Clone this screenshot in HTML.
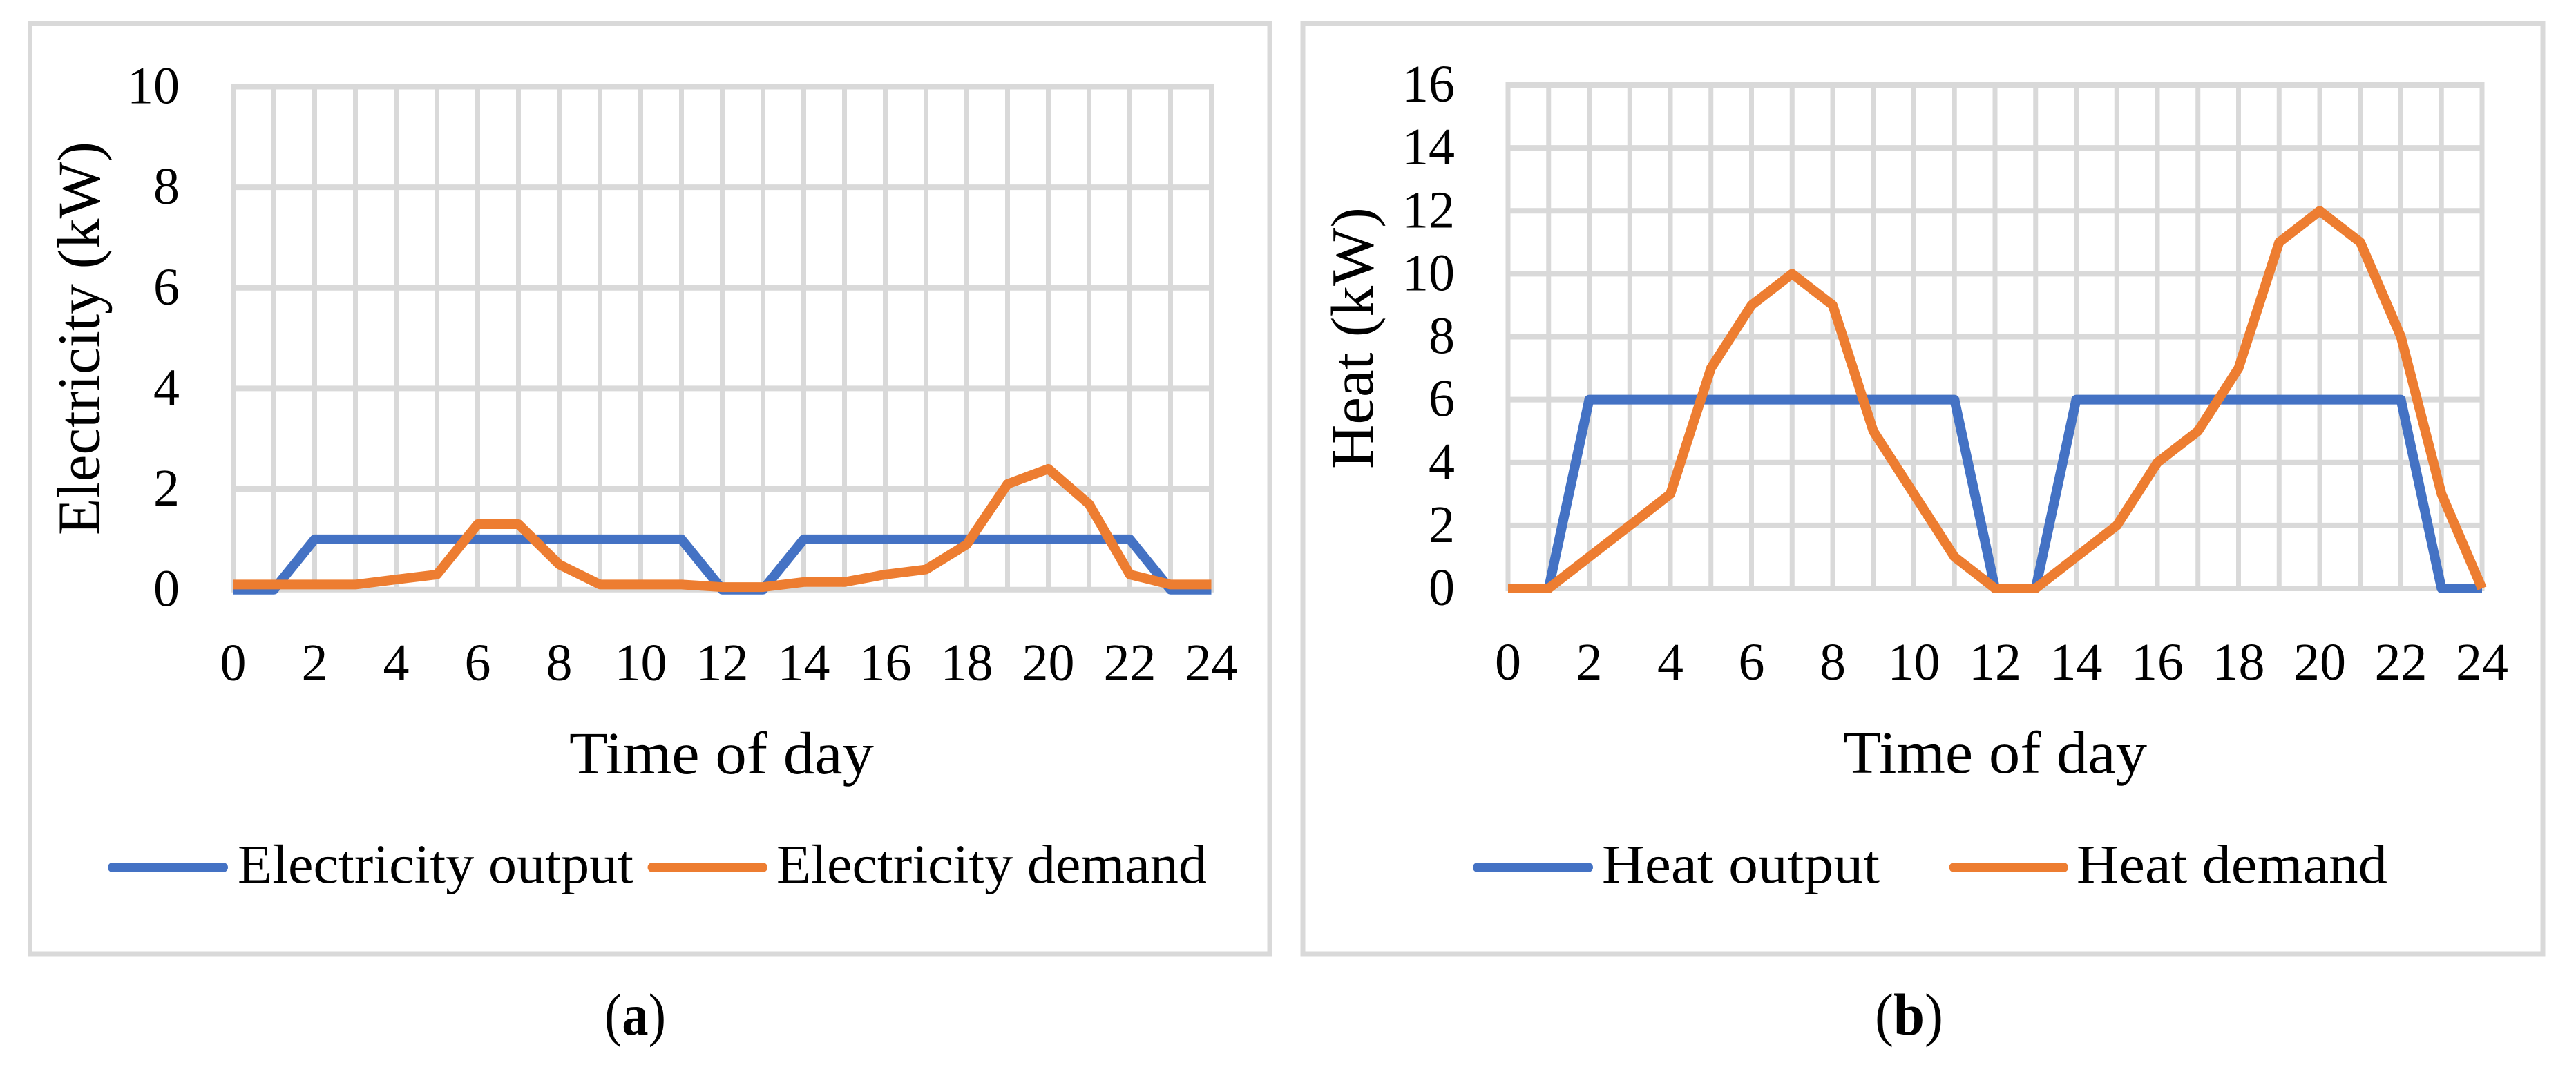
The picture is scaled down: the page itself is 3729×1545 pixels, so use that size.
<!DOCTYPE html>
<html lang="en">
<head>
<meta charset="utf-8">
<title>Electricity and heat output versus demand</title>
<style>
html,body{margin:0;padding:0;background:#fff;width:3729px;height:1545px;overflow:hidden}
svg{display:block}
text{font-family:"Liberation Serif",serif;fill:#000}
.tick{font-size:76px}
.title{font-size:87px}
.legend{font-size:79px}
.caption{font-size:86px}
</style>
</head>
<body>
<svg id="figure" xmlns="http://www.w3.org/2000/svg" width="3729" height="1545" viewBox="0 0 3729 1545">
  <rect width="3729" height="1545" fill="#fff"/>

  <g id="panel-a">
    <rect x="43.5" y="34.5" width="1794.5" height="1346.5" fill="#fff" stroke="#D9D9D9" stroke-width="7"/>
    <g id="plot-a"></g>
    <text class="title" transform="rotate(-90 143.5 775)" x="143.5" y="775" textLength="570" lengthAdjust="spacingAndGlyphs">Electricity (kW)</text>
    <text class="title" x="824" y="1120" textLength="441" lengthAdjust="spacingAndGlyphs">Time of day</text>
    <line x1="163" y1="1256" x2="323" y2="1256" stroke="#4472C4" stroke-width="14" stroke-linecap="round"/>
    <text class="legend" x="344" y="1278" textLength="573" lengthAdjust="spacingAndGlyphs">Electricity output</text>
    <line x1="944.5" y1="1256" x2="1104" y2="1256" stroke="#ED7D31" stroke-width="14" stroke-linecap="round"/>
    <text class="legend" x="1124" y="1278" textLength="623" lengthAdjust="spacingAndGlyphs">Electricity demand</text>
    <text class="caption" x="875" y="1498" textLength="89" lengthAdjust="spacingAndGlyphs">(<tspan font-weight="bold">a</tspan>)</text>
  </g>

  <g id="panel-b">
    <rect x="1886" y="34.5" width="1795" height="1346.5" fill="#fff" stroke="#D9D9D9" stroke-width="7"/>
    <g id="plot-b"></g>
    <text class="title" transform="rotate(-90 1987 679)" x="1987" y="679" textLength="379" lengthAdjust="spacingAndGlyphs">Heat (kW)</text>
    <text class="title" x="2668" y="1119" textLength="440" lengthAdjust="spacingAndGlyphs">Time of day</text>
    <line x1="2139" y1="1256" x2="2299" y2="1256" stroke="#4472C4" stroke-width="14" stroke-linecap="round"/>
    <text class="legend" x="2319" y="1278" textLength="402" lengthAdjust="spacingAndGlyphs">Heat output</text>
    <line x1="2828.5" y1="1256" x2="2987" y2="1256" stroke="#ED7D31" stroke-width="14" stroke-linecap="round"/>
    <text class="legend" x="3006" y="1278" textLength="450" lengthAdjust="spacingAndGlyphs">Heat demand</text>
    <text class="caption" x="2714" y="1498" textLength="99" lengthAdjust="spacingAndGlyphs">(<tspan font-weight="bold">b</tspan>)</text>
  </g>
</svg>

<script>
// Chart data
const hours = [0,1,2,3,4,5,6,7,8,9,10,11,12,13,14,15,16,17,18,19,20,21,22,23,24];
const xTickLabels = [0,2,4,6,8,10,12,14,16,18,20,22,24];
const electricityTicks = [0,2,4,6,8,10];
const heatTicks = [0,2,4,6,8,10,12,14,16];
const electricityOutput = [0,0,1,1,1,1,1,1,1,1,1,1,0,0,1,1,1,1,1,1,1,1,1,0,0];
const electricityDemand = [0.1,0.1,0.1,0.1,0.2,0.3,1.3,1.3,0.5,0.1,0.1,0.1,0.05,0.05,0.15,0.15,0.3,0.4,0.9,2.1,2.4,1.7,0.3,0.1,0.1];
const heatOutput = [0,0,6,6,6,6,6,6,6,6,6,6,0,0,6,6,6,6,6,6,6,6,6,0,0];
const heatDemand = [0,0,1,2,3,7,9,10,9,5,3,1,0,0,1,2,4,5,7,11,12,11,8,3,0];

const SVG_NS = 'http://www.w3.org/2000/svg';

function drawPlot(cfg) {
  const g = document.getElementById(cfg.groupId);
  const xMax = hours[hours.length - 1];
  const yMax = cfg.yTicks[cfg.yTicks.length - 1];
  const xScale = function (h) { return cfg.left + (h / xMax) * (cfg.right - cfg.left); };
  const yScale = function (v) { return cfg.bottom - (v / yMax) * (cfg.bottom - cfg.top); };

  hours.forEach(function (h) {
    const line = document.createElementNS(SVG_NS, 'line');
    line.setAttribute('x1', xScale(h));
    line.setAttribute('x2', xScale(h));
    line.setAttribute('y1', cfg.top);
    line.setAttribute('y2', cfg.bottom);
    line.setAttribute('stroke', '#D9D9D9');
    line.setAttribute('stroke-width', '7');
    
    
    g.appendChild(line);
  });

  cfg.yTicks.forEach(function (v) {
    const line = document.createElementNS(SVG_NS, 'line');
    line.setAttribute('x1', cfg.left - 3.5);
    line.setAttribute('x2', cfg.right + 3.5);
    line.setAttribute('y1', yScale(v));
    line.setAttribute('y2', yScale(v));
    line.setAttribute('stroke', '#D9D9D9');
    line.setAttribute('stroke-width', '8');
    
    
    g.appendChild(line);

    const label = document.createElementNS(SVG_NS, 'text');
    label.setAttribute('class', 'tick');
    label.setAttribute('text-anchor', 'end');
    label.setAttribute('x', cfg.yLabelRight);
    label.setAttribute('y', yScale(v) + 24);
    label.textContent = v;
    
    
    g.appendChild(label);
  });

  xTickLabels.forEach(function (h) {
    const label = document.createElementNS(SVG_NS, 'text');
    label.setAttribute('class', 'tick');
    label.setAttribute('text-anchor', 'middle');
    label.setAttribute('x', xScale(h));
    label.setAttribute('y', cfg.xLabelBaseline);
    label.textContent = h;
    
    
    g.appendChild(label);
  });

  cfg.series.forEach(function (s) {
    const pts = s.values.map(function (v, i) {
      return xScale(hours[i]).toFixed(1) + ',' + yScale(v).toFixed(1);
    }).join(' ');
    const poly = document.createElementNS(SVG_NS, 'polyline');
    poly.setAttribute('points', pts);
    poly.setAttribute('fill', 'none');
    poly.setAttribute('stroke', s.color);
    poly.setAttribute('stroke-width', '14');
    poly.setAttribute('stroke-linejoin', 'round');
    poly.setAttribute('stroke-linecap', 'butt');
    
    
    g.appendChild(poly);
  });
}

drawPlot({
  groupId: 'plot-a',
  left: 337.5, right: 1753.5, top: 125.5, bottom: 853.7,
  yTicks: electricityTicks,
  yLabelRight: 260,
  xLabelBaseline: 985,
  series: [
    { name: 'electricity-output-line', color: '#4472C4', values: electricityOutput },
    { name: 'electricity-demand-line', color: '#ED7D31', values: electricityDemand }
  ]
});

drawPlot({
  groupId: 'plot-b',
  left: 2183, right: 3593, top: 123, bottom: 852,
  yTicks: heatTicks,
  yLabelRight: 2106,
  xLabelBaseline: 984,
  series: [
    { name: 'heat-output-line', color: '#4472C4', values: heatOutput },
    { name: 'heat-demand-line', color: '#ED7D31', values: heatDemand }
  ]
});
</script>
</body>
</html>
